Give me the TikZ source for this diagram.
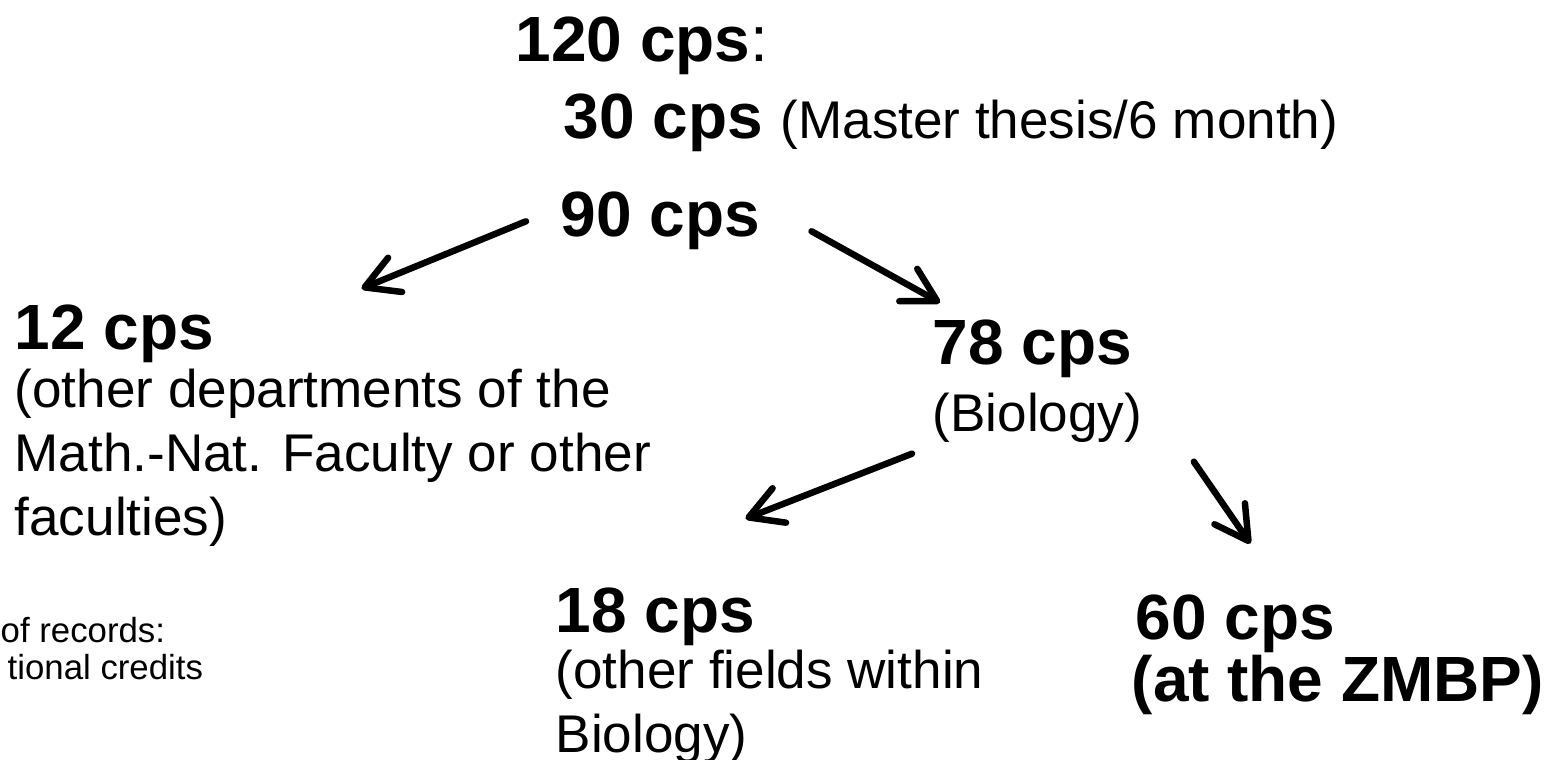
\documentclass[tikz,border=0pt]{standalone}
\usepackage{fontspec}
\setmainfont{Liberation Sans}
\usetikzlibrary{arrows.meta,positioning,calc}
\tikzset{
  cpshead/.style={
    font=\fontsize{18.2pt}{21pt}\selectfont\bfseries,
    inner sep=0pt,
    anchor=base west
  },
  cpsnote/.style={
    font=\fontsize{15.1pt}{18.2pt}\selectfont,
    align=left,
    inner sep=0pt,
    anchor=north west
  },
  sidenote/.style={
    font=\fontsize{9.9pt}{10.5pt}\selectfont,
    inner sep=0pt,
    anchor=base west
  },
  splitarrow/.style={-{Straight Barb[length=3.3mm,width=3.7mm,round]},line width=1.85pt,line cap=round}
}
\begin{document}
\begin{tikzpicture}
\useasboundingbox (0,0) rectangle (15.5,7.6);
\node[cpshead] (total) at (5.15,6.98) {120 cps{\mdseries:}};
\node[cpshead] (thirty) at (5.63,6.21) {30 cps {\mdseries\fontsize{15.1pt}{18.2pt}\selectfont(Master thesis/6 month)}};
\node[cpshead] (ninety) at (5.60,5.23) {90 cps};
\node[cpshead] (twelve) at (0.14,4.10) {12 cps};
\node[cpsnote] (twelvetxt) at (0.14,3.92) {(other departments of the\\Math.-Nat. Faculty or other\\faculties)};
\node[cpshead] (seventyeight) at (9.32,3.95) {78 cps};
\node[cpsnote,anchor=base west] (biology) at (9.32,3.28) {(Biology)};
\node[cpshead] (eighteen) at (5.55,1.27) {18 cps};
\node[cpsnote] (eighteentxt) at (5.55,1.11) {(other fields within\\Biology)};
\node[cpshead] (sixty) at (11.35,1.20) {60 cps};
\node[cpshead] (zmbp) at (11.31,0.58) {(at the ZMBP)};
\node[sidenote] (records) at (0.0,1.17) {of records:};
\node[sidenote] (credits) at (0.07,0.80) {tional credits};
% splits
\draw[splitarrow] ([shift={(-0.34,0)}]ninety.west) -- ([shift={(1.47,0.16)}]twelve.north east);
\draw[splitarrow] ([shift={(0.51,-0.10)}]ninety.east) -- ([shift={(0.08,0.17)}]seventyeight.north west);
\draw[splitarrow] ([shift={(-0.20,-0.10)}]biology.south west) -- ([shift={(-0.10,0.69)}]eighteen.north east);
\draw[splitarrow] ([shift={(0.51,-0.18)}]biology.south east) -- ([shift={(0.15,0.51)}]sixty.north);
\end{tikzpicture}
\end{document}
